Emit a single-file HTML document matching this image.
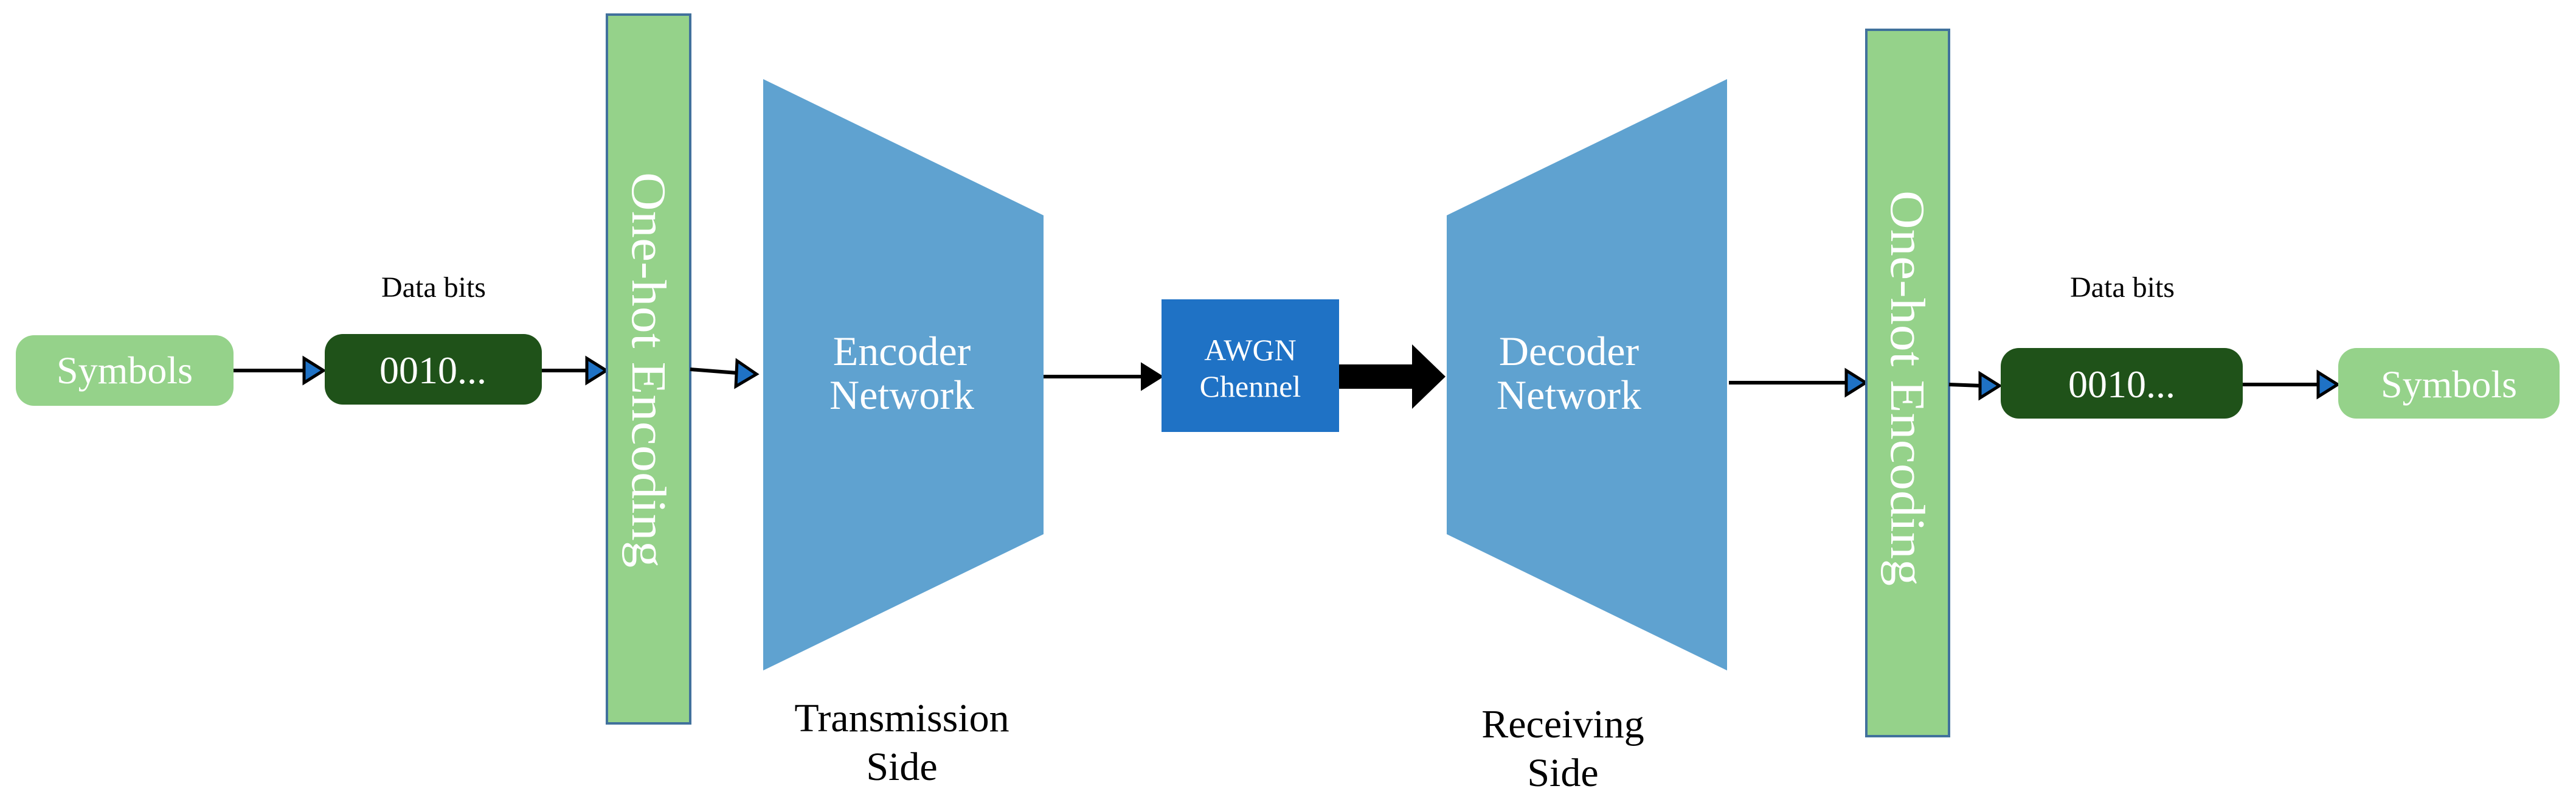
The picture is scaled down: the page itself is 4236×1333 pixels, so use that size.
<!DOCTYPE html>
<html><head><meta charset="utf-8"><style>
html,body{margin:0;padding:0;background:#fff;}
svg text{font-family:"Liberation Serif","DejaVu Serif",serif !important;}
</style></head><body>
<svg width="4236" height="1328" viewBox="0 0 4236 1328" xmlns="http://www.w3.org/2000/svg">
<rect x="26" y="551" width="358" height="116" rx="30" fill="#95d28a"/>
<text x="205" y="630" font-size="64" fill="#fff" text-anchor="middle">Symbols</text>
<line x1="384" y1="609" x2="500" y2="609" stroke="#000" stroke-width="6"/>
<polygon points="500,589 532,609 500,629" fill="#1f72c5" stroke="#000" stroke-width="5"/>
<text x="713" y="488" font-size="48" fill="#000" text-anchor="middle">Data bits</text>
<rect x="534" y="549" width="357" height="116" rx="30" fill="#1f5219"/>
<text x="712" y="630" font-size="64" fill="#fff" text-anchor="middle">0010...</text>
<line x1="891" y1="609" x2="965" y2="609" stroke="#000" stroke-width="6"/>
<polygon points="965,589 997,609 965,629" fill="#1f72c5" stroke="#000" stroke-width="5"/>
<rect x="998" y="24" width="137" height="1165" fill="#95d28a" stroke="#41719c" stroke-width="4"/>
<text transform="translate(1040,608) rotate(90)" font-size="80" fill="#fff" text-anchor="middle" textLength="650" lengthAdjust="spacingAndGlyphs">One-hot Encoding</text>
<line x1="1135" y1="607" x2="1212" y2="613" stroke="#000" stroke-width="6"/>
<polygon points="1212,593 1244,615 1210,635" fill="#1f72c5" stroke="#000" stroke-width="5"/>
<polygon points="1255,130 1716,354 1716,878 1255,1102" fill="#5fa2d0"/>
<text x="1483" y="600" font-size="68" fill="#fff" text-anchor="middle">Encoder</text>
<text x="1483" y="672" font-size="68" fill="#fff" text-anchor="middle">Network</text>
<line x1="1716" y1="619" x2="1880" y2="619" stroke="#000" stroke-width="6"/>
<polygon points="1878,599 1910,619 1878,639" fill="#000" stroke="#000" stroke-width="4"/>
<rect x="1910" y="492" width="292" height="218" fill="#1f72c5"/>
<text x="2056" y="592" font-size="50" fill="#fff" text-anchor="middle">AWGN</text>
<text x="2056" y="652" font-size="50" fill="#fff" text-anchor="middle">Chennel</text>
<polygon points="2202,599 2322,599 2322,566 2377,619 2322,672 2322,639 2202,639" fill="#000"/>
<polygon points="2379,354 2840,130 2840,1102 2379,878" fill="#5fa2d0"/>
<text x="2580" y="600" font-size="68" fill="#fff" text-anchor="middle">Decoder</text>
<text x="2580" y="672" font-size="68" fill="#fff" text-anchor="middle">Network</text>
<line x1="2843" y1="629" x2="3036" y2="629" stroke="#000" stroke-width="6"/>
<polygon points="3036,609 3068,629 3036,649" fill="#1f72c5" stroke="#000" stroke-width="5"/>
<rect x="3069" y="49" width="136" height="1161" fill="#95d28a" stroke="#41719c" stroke-width="4"/>
<text transform="translate(3110,638) rotate(90)" font-size="80" fill="#fff" text-anchor="middle" textLength="650" lengthAdjust="spacingAndGlyphs">One-hot Encoding</text>
<line x1="3205" y1="632" x2="3258" y2="634" stroke="#000" stroke-width="6"/>
<polygon points="3256,614 3288,634 3256,654" fill="#1f72c5" stroke="#000" stroke-width="5"/>
<text x="3490" y="488" font-size="48" fill="#000" text-anchor="middle">Data bits</text>
<rect x="3290" y="572" width="398" height="116" rx="30" fill="#1f5219"/>
<text x="3489" y="653" font-size="64" fill="#fff" text-anchor="middle">0010...</text>
<line x1="3688" y1="632" x2="3812" y2="632" stroke="#000" stroke-width="6"/>
<polygon points="3812,612 3844,632 3812,652" fill="#1f72c5" stroke="#000" stroke-width="5"/>
<rect x="3845" y="572" width="364" height="116" rx="30" fill="#95d28a"/>
<text x="4027" y="653" font-size="64" fill="#fff" text-anchor="middle">Symbols</text>
<text x="1483" y="1202" font-size="66" fill="#000" text-anchor="middle">Transmission</text>
<text x="1483" y="1282" font-size="66" fill="#000" text-anchor="middle">Side</text>
<text x="2570" y="1212" font-size="66" fill="#000" text-anchor="middle">Receiving</text>
<text x="2570" y="1292" font-size="66" fill="#000" text-anchor="middle">Side</text>
</svg>
</body></html>
